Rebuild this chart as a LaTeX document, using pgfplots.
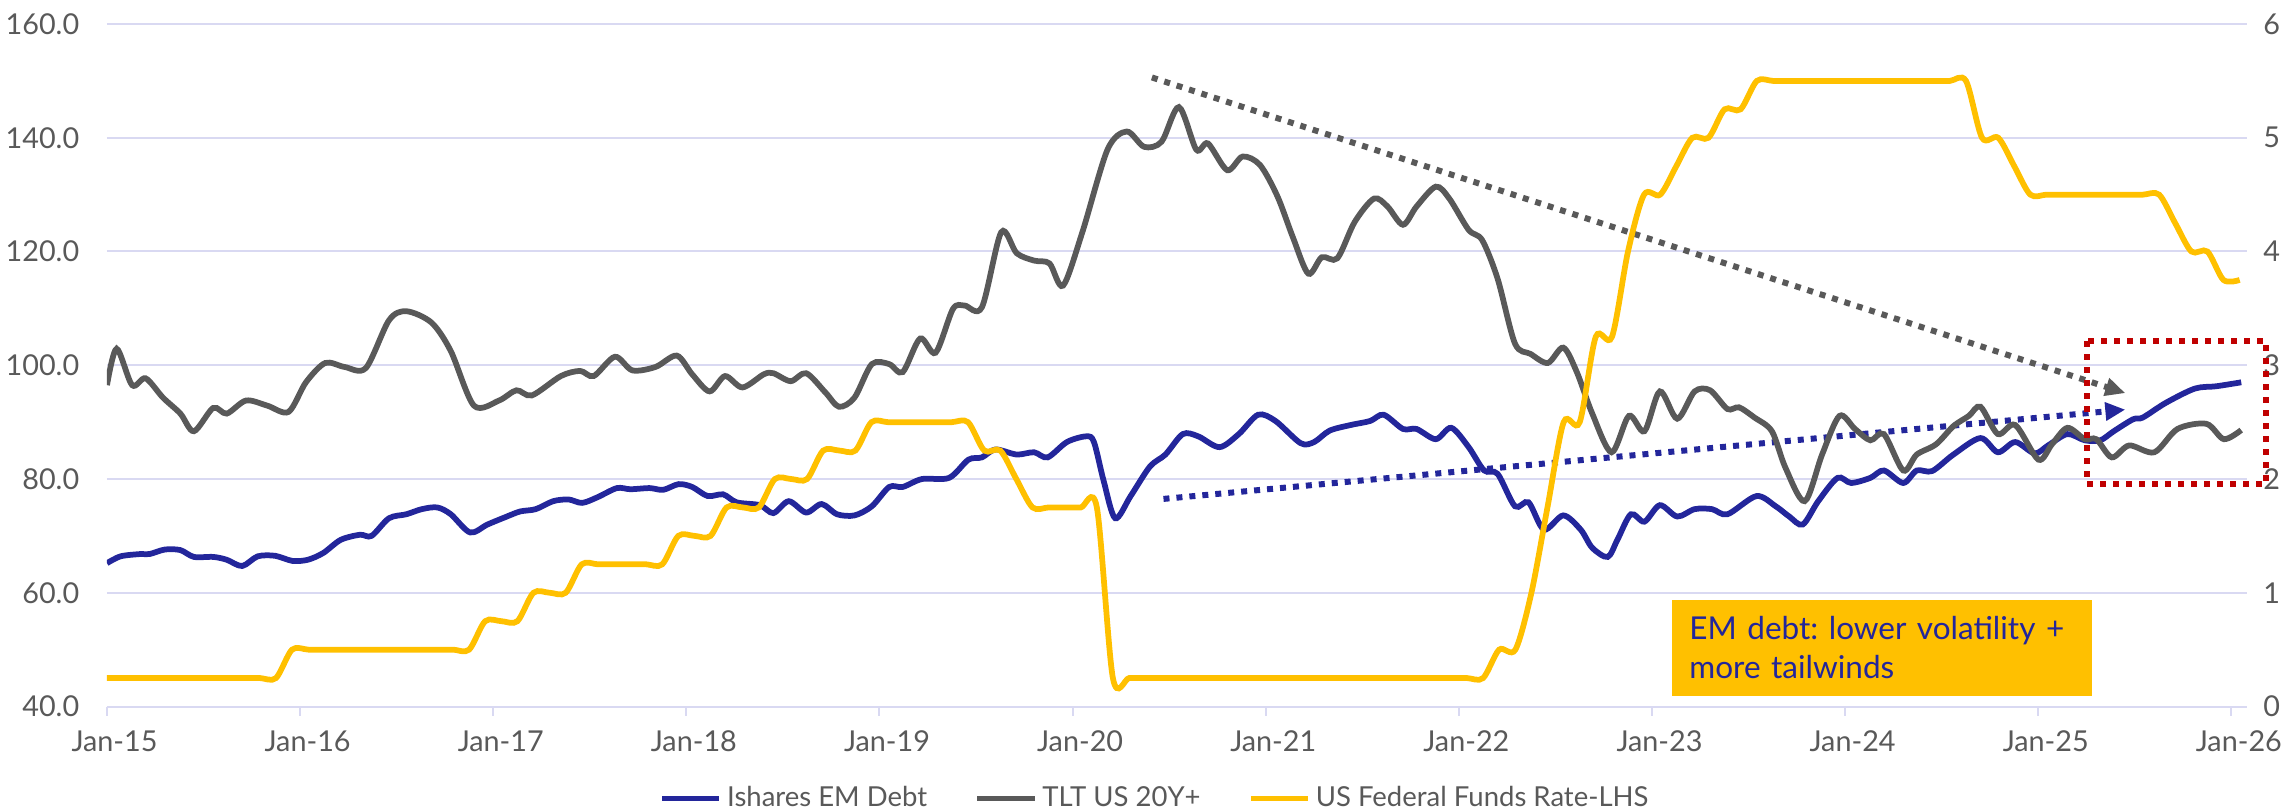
\documentclass[border=0pt]{standalone}
\usepackage{fontspec}
\setmainfont{Lato}
\usepackage{pgfplots}
\pgfplotsset{compat=1.18}
\usetikzlibrary{arrows.meta}
\frenchspacing

\definecolor{emblue}{RGB}{35,38,155}
\definecolor{tltgrey}{RGB}{89,89,89}
\definecolor{ffyellow}{RGB}{255,192,0}
\definecolor{gridc}{RGB}{217,217,242}
\definecolor{boxred}{RGB}{192,0,0}
\definecolor{labc}{RGB}{89,89,89}

\pgfplotsset{
  base/.style={
    scale only axis, width=856pt, height=273pt,
    xmin=2015, xmax=2026.08,
    axis line style={draw=none},
    tick label style={font=\fontsize{11.5}{13}\selectfont, text=labc},
  },
}
\tikzset{
  dotarrow/.style={line width=2.4pt, dash pattern=on 2.4pt off 2.8pt,
    -{Triangle[length=8pt,width=7pt]}},
}

\begin{document}
\begin{tikzpicture}
\begin{axis}[base,
  ymin=40, ymax=160,
  ytick={40,60,...,160},
  yticklabels={40.0,60.0,80.0,100.0,120.0,140.0,160.0},
  ymajorgrids, grid style={gridc, line width=0.8pt},
  xtick={2015,...,2026},
  xticklabels={Jan-15,Jan-16,Jan-17,Jan-18,Jan-19,Jan-20,Jan-21,Jan-22,Jan-23,Jan-24,Jan-25,Jan-26},
  xtick pos=bottom, ytick pos=left,
  tick align=outside, major tick length=3.6pt,
  xtick style={draw=gridc, line width=0.8pt},
  ytick style={draw=none},
  xticklabel style={yshift=-2.5pt, xshift=3pt},
  yticklabel style={xshift=-4pt},
]
% trend arrows (drawn under the lines)
\draw[tltgrey, dotarrow] (axis cs:2020.41,150.6) -- (axis cs:2025.45,95.1);
\draw[emblue, dotarrow] (axis cs:2020.47,76.5) -- (axis cs:2025.45,92.2);

% Ishares EM Debt
\addplot[emblue, line width=2.3pt, smooth] coordinates {
(2015.0,65.2)(2015.07,66.4)(2015.17,66.8)(2015.22,66.8)(2015.3,67.6)(2015.38,67.5)
(2015.45,66.3)(2015.55,66.3)(2015.62,65.8)(2015.7,64.7)(2015.78,66.4)(2015.87,66.5)
(2015.96,65.6)(2016.04,65.8)(2016.12,67)(2016.21,69.3)(2016.31,70.2)(2016.37,70)
(2016.46,73.1)(2016.55,73.8)(2016.63,74.7)(2016.71,75)(2016.78,73.8)(2016.88,70.6)
(2016.97,72)(2017.07,73.4)(2017.14,74.3)(2017.22,74.7)(2017.31,76.1)(2017.39,76.4)
(2017.46,75.8)(2017.54,76.8)(2017.64,78.4)(2017.71,78.2)(2017.81,78.4)(2017.88,78.1)
(2017.96,79.1)(2018.03,78.6)(2018.11,77)(2018.19,77.3)(2018.26,75.9)(2018.38,75.4)
(2018.45,74)(2018.53,76.1)(2018.62,74.1)(2018.7,75.6)(2018.78,73.8)(2018.87,73.6)
(2018.96,75.2)(2019.05,78.6)(2019.12,78.6)(2019.22,80)(2019.36,80.2)(2019.46,83.4)
(2019.53,83.8)(2019.6,85.2)(2019.71,84.3)(2019.8,84.7)(2019.87,83.8)(2019.97,86.5)
(2020.07,87.5)(2020.11,86.5)(2020.16,79.7)(2020.22,73.1)(2020.3,77)(2020.4,82.2)
(2020.48,84.3)(2020.57,87.9)(2020.65,87.5)(2020.76,85.6)(2020.86,87.9)(2020.96,91.3)
(2021.05,90.2)(2021.18,86.3)(2021.25,86.5)(2021.33,88.5)(2021.44,89.5)(2021.54,90.2)
(2021.61,91.3)(2021.71,88.8)(2021.78,88.8)(2021.88,87)(2021.96,89)(2022.05,85.6)
(2022.13,81.5)(2022.2,80.9)(2022.29,75.2)(2022.36,75.9)(2022.44,71.1)(2022.54,73.6)
(2022.63,71.1)(2022.69,67.9)(2022.77,66.3)(2022.82,69.3)(2022.89,73.8)(2022.96,72.5)
(2023.04,75.4)(2023.13,73.4)(2023.22,74.7)(2023.31,74.7)(2023.39,73.8)(2023.54,77)
(2023.64,75.2)(2023.71,73.4)(2023.78,72)(2023.86,76.1)(2023.96,80.2)(2024.03,79.3)
(2024.13,80.2)(2024.2,81.5)(2024.3,79.3)(2024.37,81.5)(2024.45,81.4)(2024.56,84.3)
(2024.7,87.2)(2024.79,84.7)(2024.88,86.5)(2024.98,84.5)(2025.05,85.9)(2025.15,87.9)
(2025.24,86.8)(2025.32,86.8)(2025.39,88.4)(2025.49,90.5)(2025.54,90.8)(2025.66,93.4)
(2025.81,95.9)(2025.92,96.3)(2026.05,97)
};

% TLT US 20Y+
\addplot[tltgrey, line width=2.3pt, smooth] coordinates {
(2015.0,96.5)(2015.05,102.9)(2015.13,96.5)(2015.2,97.7)(2015.29,94.3)(2015.38,91.5)
(2015.45,88.4)(2015.55,92.5)(2015.62,91.5)(2015.72,93.8)(2015.83,92.9)(2015.94,91.8)
(2016.03,97)(2016.13,100.4)(2016.23,99.7)(2016.34,99.5)(2016.46,107.9)(2016.55,109.5)
(2016.68,107.5)(2016.78,102.5)(2016.9,92.9)(2017.03,93.8)(2017.12,95.6)(2017.2,94.7)
(2017.35,98.1)(2017.45,99)(2017.52,98.1)(2017.63,101.5)(2017.72,99.1)(2017.84,99.7)
(2017.95,101.7)(2018.03,98.4)(2018.12,95.4)(2018.2,98.1)(2018.29,96.1)(2018.4,98.4)
(2018.45,98.6)(2018.54,97.2)(2018.62,98.6)(2018.72,95.2)(2018.79,92.7)(2018.87,94.3)
(2018.96,100.2)(2019.05,100.2)(2019.12,98.8)(2019.21,104.7)(2019.29,102.2)(2019.38,109.9)
(2019.44,110.5)(2019.53,110.2)(2019.63,123.4)(2019.71,119.7)(2019.8,118.4)(2019.88,117.9)
(2019.95,114)(2020.05,123.4)(2020.18,137.9)(2020.28,141.1)(2020.37,138.4)(2020.46,139.3)
(2020.55,145.4)(2020.64,137.9)(2020.7,139)(2020.8,134.3)(2020.88,136.7)(2020.97,135.2)
(2021.06,129.7)(2021.14,122.5)(2021.22,116.1)(2021.29,119)(2021.37,118.8)(2021.46,125.2)
(2021.56,129.3)(2021.63,127.9)(2021.71,124.7)(2021.78,127.9)(2021.88,131.4)(2021.95,129.3)
(2022.05,123.8)(2022.12,122)(2022.2,115.2)(2022.29,103.8)(2022.37,102)(2022.46,100.4)
(2022.54,103.1)(2022.61,98.8)(2022.69,91.5)(2022.79,84.7)(2022.88,91.1)(2022.96,88.4)
(2023.04,95.4)(2023.13,90.6)(2023.22,95.4)(2023.3,95.6)(2023.39,92.3)(2023.45,92.6)
(2023.53,90.8)(2023.62,88.4)(2023.69,82)(2023.79,76.1)(2023.88,84.3)(2023.97,91.1)
(2024.05,88.8)(2024.13,86.8)(2024.2,87.9)(2024.3,81.5)(2024.37,84.3)(2024.47,86.1)
(2024.56,89.3)(2024.64,91.1)(2024.7,92.7)(2024.79,87.9)(2024.88,89.5)(2025.0,83.4)
(2025.07,86.1)(2025.15,89)(2025.24,87)(2025.3,87)(2025.38,83.8)(2025.47,85.9)
(2025.6,84.7)(2025.72,88.8)(2025.87,89.7)(2025.96,87)(2026.05,88.6)
};
\end{axis}

\begin{axis}[base, clip=false,
  ymin=0, ymax=6,
  ytick={0,...,6}, yticklabels={0,1,2,3,4,5,6},
  ytick pos=right, yticklabel pos=right,
  xtick=\empty, ytick style={draw=none},
  yticklabel style={xshift=3pt},
  legend style={at={(0.4904,-0.1348)}, anchor=center, draw=none, fill=none,
    font=\fontsize{11}{13}\selectfont, text=labc, legend columns=3,
    /tikz/every even column/.append style={column sep=17pt}},
  legend image code/.code={\draw[#1, line width=2.3pt] (0pt,0pt) -- (22.8pt,0pt);},
]
\addlegendimage{emblue}
\addlegendentry{Ishares EM Debt}
\addlegendimage{tltgrey}
\addlegendentry{TLT US 20Y+}

% US Federal Funds Rate (upper bound, monthly)
\addplot[ffyellow, line width=2.3pt, smooth] coordinates {
(2015.0,0.25)(2015.125,0.25)(2015.208,0.25)(2015.292,0.25)(2015.375,0.25)(2015.458,0.25)
(2015.542,0.25)(2015.625,0.25)(2015.708,0.25)(2015.792,0.25)(2015.875,0.25)(2015.958,0.5)
(2016.042,0.5)(2016.125,0.5)(2016.208,0.5)(2016.292,0.5)(2016.375,0.5)(2016.458,0.5)
(2016.542,0.5)(2016.625,0.5)(2016.708,0.5)(2016.792,0.5)(2016.875,0.5)(2016.958,0.75)
(2017.042,0.75)(2017.125,0.75)(2017.208,1)(2017.292,1)(2017.375,1)(2017.458,1.25)
(2017.542,1.25)(2017.625,1.25)(2017.708,1.25)(2017.792,1.25)(2017.875,1.25)(2017.958,1.5)
(2018.042,1.5)(2018.125,1.5)(2018.208,1.75)(2018.292,1.75)(2018.375,1.75)(2018.458,2)
(2018.542,2)(2018.625,2)(2018.708,2.25)(2018.792,2.25)(2018.875,2.25)(2018.958,2.5)
(2019.042,2.5)(2019.125,2.5)(2019.208,2.5)(2019.292,2.5)(2019.375,2.5)(2019.458,2.5)
(2019.542,2.25)(2019.625,2.25)(2019.708,2)(2019.792,1.75)(2019.875,1.75)(2019.958,1.75)
(2020.042,1.75)(2020.125,1.75)(2020.208,0.25)(2020.292,0.25)(2020.375,0.25)(2020.458,0.25)
(2020.542,0.25)(2020.625,0.25)(2020.708,0.25)(2020.792,0.25)(2020.875,0.25)(2020.958,0.25)
(2021.042,0.25)(2021.125,0.25)(2021.208,0.25)(2021.292,0.25)(2021.375,0.25)(2021.458,0.25)
(2021.542,0.25)(2021.625,0.25)(2021.708,0.25)(2021.792,0.25)(2021.875,0.25)(2021.958,0.25)
(2022.042,0.25)(2022.125,0.25)(2022.208,0.5)(2022.292,0.5)(2022.375,1)(2022.458,1.75)
(2022.542,2.5)(2022.625,2.5)(2022.708,3.25)(2022.792,3.25)(2022.875,4)(2022.958,4.5)
(2023.042,4.5)(2023.125,4.75)(2023.208,5)(2023.292,5)(2023.375,5.25)(2023.458,5.25)
(2023.542,5.5)(2023.625,5.5)(2023.708,5.5)(2023.792,5.5)(2023.875,5.5)(2023.958,5.5)
(2024.042,5.5)(2024.125,5.5)(2024.208,5.5)(2024.292,5.5)(2024.375,5.5)(2024.458,5.5)
(2024.542,5.5)(2024.625,5.5)(2024.708,5)(2024.792,5)(2024.875,4.75)(2024.958,4.5)
(2025.042,4.5)(2025.125,4.5)(2025.208,4.5)(2025.292,4.5)(2025.375,4.5)(2025.458,4.5)
(2025.542,4.5)(2025.625,4.5)(2025.708,4.25)(2025.792,4)(2025.875,4)(2025.958,3.75)
(2026.042,3.75)
};
\addlegendentry{US Federal Funds Rate-LHS}

% highlight box and call-out
\draw[boxred, line width=2.4pt, dash pattern=on 2.4pt off 2.8pt]
  (axis cs:2025.249,3.21) rectangle (axis cs:2026.18,1.96);
\node[anchor=north west, fill=ffyellow, text=emblue, inner xsep=7pt, inner ysep=0pt,
  text width=154pt, minimum height=38.4pt, align=left,
  font=\fontsize{12.6}{15.6}\selectfont]
  at (axis cs:2023.10,0.941) {EM debt: lower volatility +\\more tailwinds};
\end{axis}
\pgfresetboundingbox
\path[use as bounding box] (-42.8pt,-41.6pt) rectangle (875.2pt,282.6pt);
\end{tikzpicture}
\end{document}
